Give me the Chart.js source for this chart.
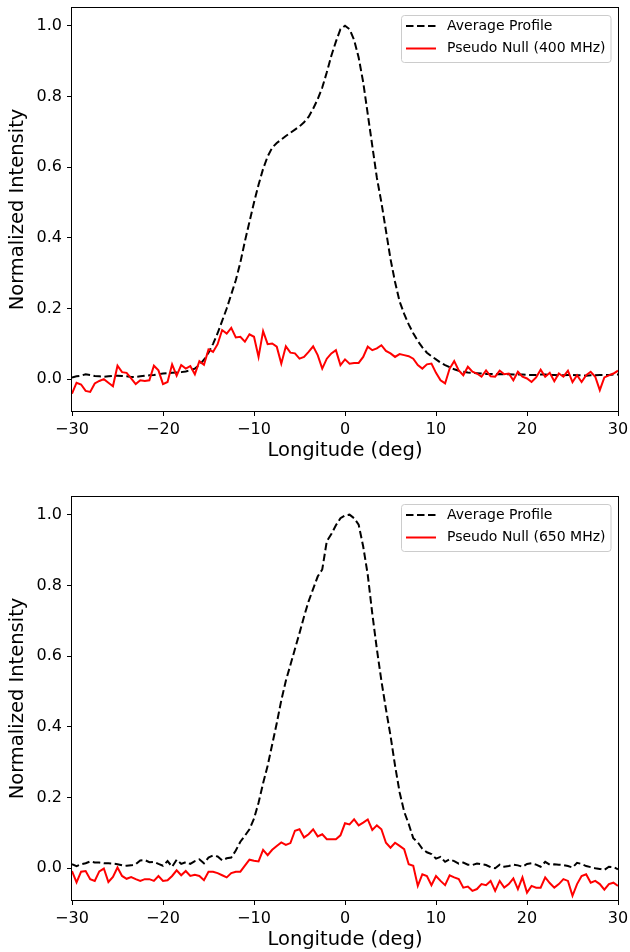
<!DOCTYPE html>
<html>
<head>
<meta charset="utf-8">
<script src="https://cdn.jsdelivr.net/npm/chart.js@4.4.1/dist/chart.umd.min.js"></script>
<style>
  html, body { margin: 0; padding: 0; background: #fff; }
  canvas { display: block; }
</style>
</head>
<body>
<canvas id="chart-400" width="630" height="476"></canvas>
<canvas id="chart-650" width="630" height="476"></canvas>
<script>
// longitude grid (deg), shared by all four curves
const longitude = [
  -30, -29.5, -29, -28.5, -28, -27.5, -27, -26.5, -26, -25.5, -25, -24.5, -24, -23.5, -23, -22.5,
  -22, -21.5, -21, -20.5, -20, -19.5, -19, -18.5, -18, -17.5, -17, -16.5, -16, -15.5, -15, -14.5,
  -14, -13.5, -13, -12.5, -12, -11.5, -11, -10.5, -10, -9.5, -9, -8.5, -8, -7.5, -7, -6.5,
  -6, -5.5, -5, -4.5, -4, -3.5, -3, -2.5, -2, -1.5, -1, -0.5, 0, 0.5, 1, 1.5,
  2, 2.5, 3, 3.5, 4, 4.5, 5, 5.5, 6, 6.5, 7, 7.5, 8, 8.5, 9, 9.5,
  10, 10.5, 11, 11.5, 12, 12.5, 13, 13.5, 14, 14.5, 15, 15.5, 16, 16.5, 17, 17.5,
  18, 18.5, 19, 19.5, 20, 20.5, 21, 21.5, 22, 22.5, 23, 23.5, 24, 24.5, 25, 25.5,
  26, 26.5, 27, 27.5, 28, 28.5, 29, 29.5, 30
];

// 400 MHz panel
const avg400 = [
  0.005, 0.008, 0.010, 0.014, 0.012, 0.009, 0.008, 0.007, 0.008, 0.009, 0.010, 0.009, 0.008, 0.006, 0.006, 0.008,
  0.010, 0.011, 0.012, 0.014, 0.016, 0.017, 0.018, 0.019, 0.020, 0.022, 0.025, 0.030, 0.040, 0.055, 0.075, 0.100,
  0.130, 0.165, 0.200, 0.240, 0.280, 0.330, 0.390, 0.445, 0.500, 0.550, 0.595, 0.630, 0.655, 0.668, 0.678, 0.688,
  0.697, 0.706, 0.715, 0.727, 0.742, 0.765, 0.792, 0.825, 0.868, 0.915, 0.955, 0.990, 1.000, 0.990, 0.960, 0.910,
  0.840, 0.750, 0.660, 0.570, 0.500, 0.420, 0.340, 0.275, 0.220, 0.185, 0.155, 0.130, 0.108, 0.090, 0.075, 0.065,
  0.056, 0.047, 0.040, 0.034, 0.028, 0.024, 0.021, 0.019, 0.018, 0.017, 0.016, 0.015, 0.015, 0.014, 0.015, 0.014,
  0.014, 0.013, 0.013, 0.013, 0.012, 0.012, 0.012, 0.013, 0.013, 0.012, 0.012, 0.011, 0.011, 0.012, 0.012, 0.011,
  0.011, 0.010, 0.011, 0.011, 0.012, 0.012, 0.012, 0.013, 0.013
];
const null400 = [
  -0.041, -0.010, -0.015, -0.033, -0.036, -0.012, -0.005, 0.000, -0.010, -0.020, 0.038, 0.020, 0.018, 0.002, -0.014, -0.003,
  -0.005, -0.003, 0.038, 0.025, -0.014, -0.008, 0.042, 0.010, 0.040, 0.030, 0.037, 0.014, 0.051, 0.041, 0.084, 0.077,
  0.099, 0.139, 0.129, 0.145, 0.118, 0.120, 0.106, 0.127, 0.120, 0.063, 0.136, 0.099, 0.101, 0.092, 0.044, 0.093,
  0.075, 0.073, 0.058, 0.063, 0.077, 0.093, 0.068, 0.030, 0.058, 0.073, 0.082, 0.040, 0.056, 0.044, 0.046, 0.046,
  0.063, 0.092, 0.082, 0.087, 0.096, 0.080, 0.073, 0.063, 0.071, 0.068, 0.065, 0.058, 0.040, 0.030, 0.042, 0.044,
  0.018, -0.003, -0.012, 0.030, 0.051, 0.025, 0.011, 0.035, 0.021, 0.016, 0.007, 0.025, 0.008, 0.007, 0.024, 0.014,
  0.016, -0.003, 0.021, 0.007, 0.002, -0.008, 0.005, 0.027, 0.007, 0.018, -0.006, 0.016, 0.007, 0.024, -0.008, 0.011,
  -0.008, 0.011, 0.021, 0.007, -0.031, 0.005, 0.011, 0.016, 0.024
];

// 650 MHz panel
const avg650 = [
  0.011, 0.006, 0.011, 0.014, 0.019, 0.016, 0.016, 0.014, 0.014, 0.013, 0.011, 0.008, 0.007, 0.008, 0.011, 0.022,
  0.023, 0.017, 0.018, 0.012, 0.007, 0.020, 0.004, 0.024, 0.012, 0.017, 0.012, 0.020, 0.025, 0.014, 0.030, 0.036,
  0.033, 0.022, 0.028, 0.030, 0.050, 0.075, 0.092, 0.110, 0.140, 0.185, 0.240, 0.290, 0.350, 0.410, 0.475, 0.530,
  0.575, 0.620, 0.665, 0.712, 0.755, 0.790, 0.825, 0.845, 0.925, 0.945, 0.970, 0.990, 0.998, 1.000, 0.990, 0.972,
  0.910, 0.830, 0.720, 0.620, 0.530, 0.450, 0.375, 0.290, 0.215, 0.160, 0.125, 0.085, 0.073, 0.055, 0.045, 0.040,
  0.027, 0.032, 0.018, 0.025, 0.020, 0.013, 0.016, 0.010, 0.009, 0.013, 0.011, 0.009, 0.003, 0.000, 0.010, 0.004,
  0.006, 0.010, 0.008, 0.004, 0.012, 0.014, 0.010, 0.004, 0.018, 0.010, 0.011, 0.010, 0.009, 0.006, 0.002, 0.015,
  0.012, 0.006, 0.003, 0.000, -0.002, -0.005, 0.004, 0.003, -0.003
];
const null650 = [
  -0.008, -0.040, -0.010, -0.008, -0.031, -0.036, -0.009, -0.001, -0.039, -0.025, 0.002, -0.022, -0.030, -0.025, -0.031, -0.036,
  -0.031, -0.031, -0.036, -0.022, -0.036, -0.034, -0.022, -0.006, -0.020, -0.008, -0.022, -0.019, -0.022, -0.034, -0.010, -0.010,
  -0.014, -0.020, -0.026, -0.014, -0.010, -0.010, 0.007, 0.024, 0.021, 0.019, 0.052, 0.037, 0.052, 0.063, 0.073, 0.066,
  0.071, 0.106, 0.110, 0.087, 0.096, 0.110, 0.090, 0.096, 0.082, 0.082, 0.082, 0.093, 0.127, 0.124, 0.138, 0.121,
  0.129, 0.138, 0.108, 0.121, 0.110, 0.072, 0.058, 0.072, 0.063, 0.054, 0.011, 0.007, -0.050, -0.017, -0.022, -0.048,
  -0.022, -0.036, -0.048, -0.020, -0.026, -0.031, -0.055, -0.052, -0.064, -0.059, -0.045, -0.048, -0.036, -0.064, -0.036, -0.055,
  -0.045, -0.029, -0.059, -0.026, -0.069, -0.050, -0.055, -0.055, -0.026, -0.042, -0.055, -0.045, -0.031, -0.036, -0.078, -0.045,
  -0.022, -0.017, -0.041, -0.036, -0.045, -0.061, -0.045, -0.041, -0.050
];

const xTicks = [-30, -20, -10, 0, 10, 20, 30];
const yTicks = [0, 0.2, 0.4, 0.6, 0.8, 1.0];
const avgLabel = 'Average Profile';
const nullLabels = ['Pseudo Null (400 MHz)', 'Pseudo Null (650 MHz)'];
const xTitle = 'Longitude (deg)';
const yTitle = 'Normalized Intensity';

const FONT = '"DejaVu Sans", "Liberation Sans", sans-serif';

// black box around the plot area (matplotlib spines)
const framePlugin = {
  id: 'frame',
  afterDatasetsDraw(chart) {
    const { ctx, chartArea: a } = chart;
    ctx.save();
    ctx.strokeStyle = '#000';
    ctx.lineWidth = 1;
    ctx.strokeRect(Math.round(a.left) - 0.5, Math.round(a.top) - 0.5,
      Math.round(a.right - a.left) + 1, Math.round(a.bottom - a.top) + 1);
    ctx.restore();
  }
};

// matplotlib-like legend box in the upper right corner
const boxLegend = {
  id: 'boxLegend',
  afterDraw(chart) {
    const { ctx, chartArea } = chart;
    const sets = chart.data.datasets;
    ctx.save();
    ctx.font = '14px ' + FONT;
    const textW = Math.max(...sets.map(s => ctx.measureText(s.label).width));
    const w = 46 + textW + 5;
    const h = 47;
    const x0 = Math.round(chartArea.right - 7 - w);
    const y0 = Math.round(chartArea.top + 7);
    ctx.beginPath();
    if (ctx.roundRect) ctx.roundRect(x0 + 0.5, y0 + 0.5, w, h, 3);
    else ctx.rect(x0 + 0.5, y0 + 0.5, w, h);
    ctx.fillStyle = 'rgba(255,255,255,0.8)';
    ctx.fill();
    ctx.strokeStyle = '#cccccc';
    ctx.lineWidth = 1;
    ctx.stroke();
    sets.forEach((s, i) => {
      const yy = y0 + 11 + i * 22.5;
      ctx.beginPath();
      ctx.setLineDash(s.borderDash || []);
      ctx.strokeStyle = s.borderColor;
      ctx.lineWidth = s.borderWidth;
      ctx.moveTo(x0 + 5, yy);
      ctx.lineTo(x0 + 35, yy);
      ctx.stroke();
      ctx.setLineDash([]);
      ctx.fillStyle = '#000';
      ctx.textBaseline = 'middle';
      ctx.textAlign = 'left';
      ctx.fillText(s.label, x0 + 46, yy);
    });
    ctx.restore();
  }
};

function points(values) {
  return values.map((v, i) => ({ x: longitude[i], y: v }));
}

function makeChart(canvas, avg, pseudo, nullLabel, padTop, xHeight, xTitlePad) {
  return new Chart(canvas.getContext('2d'), {
    type: 'line',
    data: {
      datasets: [
        {
          label: avgLabel,
          data: points(avg),
          borderColor: '#000000',
          borderWidth: 2,
          borderDash: [7.5, 3.5],
          pointRadius: 0,
          tension: 0,
          order: 2
        },
        {
          label: nullLabel,
          data: points(pseudo),
          borderColor: '#ff0000',
          borderWidth: 2,
          pointRadius: 0,
          tension: 0,
          order: 1
        }
      ]
    },
    options: {
      responsive: false,
      animation: false,
      devicePixelRatio: 1,
      layout: { padding: { top: padTop, right: 12, left: 0, bottom: 0 } },
      plugins: {
        legend: { display: false },
        tooltip: { enabled: false }
      },
      scales: {
        x: {
          type: 'linear',
          min: -30,
          max: 30,
          afterBuildTicks: scale => { scale.ticks = xTicks.map(v => ({ value: v })); },
          afterFit: scale => {
            scale.height = xHeight;
            scale.paddingLeft = 0;
            scale.paddingRight = 0;
          },
          ticks: {
            color: '#000',
            font: { family: FONT, size: 16 },
            padding: 4,
            maxRotation: 0,
            callback: v => String(v).replace('-', '\u2212')
          },
          grid: { display: true, drawOnChartArea: false, drawTicks: true, tickLength: 5, color: '#000', lineWidth: 1 },
          border: { display: false },
          title: {
            display: true,
            text: xTitle,
            color: '#000',
            font: { family: FONT, size: 19.5 },
            padding: { top: 0, bottom: xTitlePad }
          }
        },
        y: {
          type: 'linear',
          min: -0.09,
          max: 1.05,
          afterBuildTicks: scale => { scale.ticks = yTicks.map(v => ({ value: v })); },
          afterFit: scale => {
            scale.width = 72;
            scale.paddingTop = 0;
            scale.paddingBottom = 0;
          },
          ticks: {
            color: '#000',
            font: { family: FONT, size: 16 },
            padding: 5,
            callback: v => v.toFixed(1)
          },
          grid: { display: true, drawOnChartArea: false, drawTicks: true, tickLength: 5, color: '#000', lineWidth: 1 },
          border: { display: false },
          title: {
            display: true,
            text: yTitle,
            color: '#000',
            font: { family: FONT, size: 19.5 },
            padding: { top: 6, bottom: 0 }
          }
        }
      }
    },
    plugins: [framePlugin, boxLegend]
  });
}

function main() {
  const topCanvas = document.querySelector('#chart-400');
  const bottomCanvas = document.querySelector('#chart-650');
  makeChart(topCanvas, avg400, null400, nullLabels[0], 8, 65, 13);
  makeChart(bottomCanvas, avg650, null650, nullLabels[1], 21, 52, 0);
}

main();
</script>
</body>
</html>
